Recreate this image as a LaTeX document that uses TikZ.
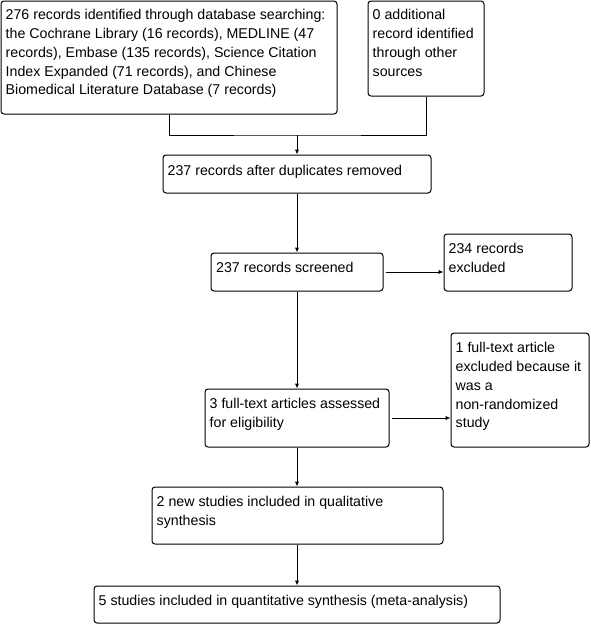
\documentclass[tikz,border=0pt]{standalone}
\usepackage{fontspec}
\setmainfont{Liberation Sans}
\usetikzlibrary{arrows.meta}
\begin{document}
\begin{tikzpicture}[x=1pt,y=-1pt,
  box/.style={draw, line width=1pt, rounded corners=3pt, minimum width=#1, inner sep=0pt},
  txt/.style={anchor=north west, inner sep=0pt, align=left, font=\fontsize{14.2}{18.7}\selectfont},
  arr/.style={line width=1pt, -{Latex[length=5pt,width=4.5pt]}},
  ln/.style={line width=1pt}]
\useasboundingbox (0,0) rectangle (590,624);
% boxes
\node[box=336pt, minimum height=113pt] (A) at (169,57.5) {};
\node[box=116pt, minimum height=95pt] (B) at (426,48.5) {};
\node[box=268pt, minimum height=38pt] (C) at (297,174) {};
\node[box=172pt, minimum height=38pt] (D) at (297,272) {};
\node[box=128pt, minimum height=57pt] (E) at (508,262.5) {};
\node[box=184pt, minimum height=58pt] (F) at (297,418) {};
\node[box=138pt, minimum height=114pt] (G) at (520,390) {};
\node[box=291pt, minimum height=57pt] (H) at (297.5,515.5) {};
\node[box=406pt, minimum height=37pt] (I) at (297,604.5) {};
% texts
\node[txt] (tA) at (5.5,9.5) {276 records identified through database searching:\\the Cochrane Library (16 records), MEDLINE (47\\records), Embase (135 records), Science Citation\\Index Expanded (71 records), and Chinese\\Biomedical Literature Database (7 records)};
\node[txt] (tB) at (372.5,9.5) {0 additional\\record identified\\through other\\sources};
\node[txt] (tC) at (167.5,165) {237 records after duplicates removed};
\node[txt] (tD) at (216,262.5) {237 records screened};
\node[txt] (tE) at (448.5,243.5) {234 records\\excluded};
\node[txt] (tF) at (209.5,398.5) {3 full-text articles assessed\\for eligibility};
\node[txt] (tG) at (455.5,342.5) {1 full-text article\\excluded because it\\was a\\non-randomized\\study};
\node[txt] (tH) at (156.5,496.5) {2 new studies included in qualitative\\synthesis};
\node[txt] (tI) at (98.5,595.5) {5 studies included in quantitative synthesis (meta-analysis)};
% connectors
\coordinate (m) at (297,135);
\draw[ln] (A.south) |- (m) -| (B.south);
\draw[arr] (m) -- (C.north);
\draw[arr] (C.south) -- (D.north);
\draw[arr] ([xshift=2pt]D.east) -- (D.east -| E.west);
\draw[arr] (D.south) -- (F.north);
\draw[arr] ([xshift=2pt]F.east) -- (F.east -| G.west);
\draw[arr] (F.south) -- (F.south |- H.north);
\draw[arr] (H.south -| F.south) -- (F.south |- I.north);
\end{tikzpicture}
\end{document}
